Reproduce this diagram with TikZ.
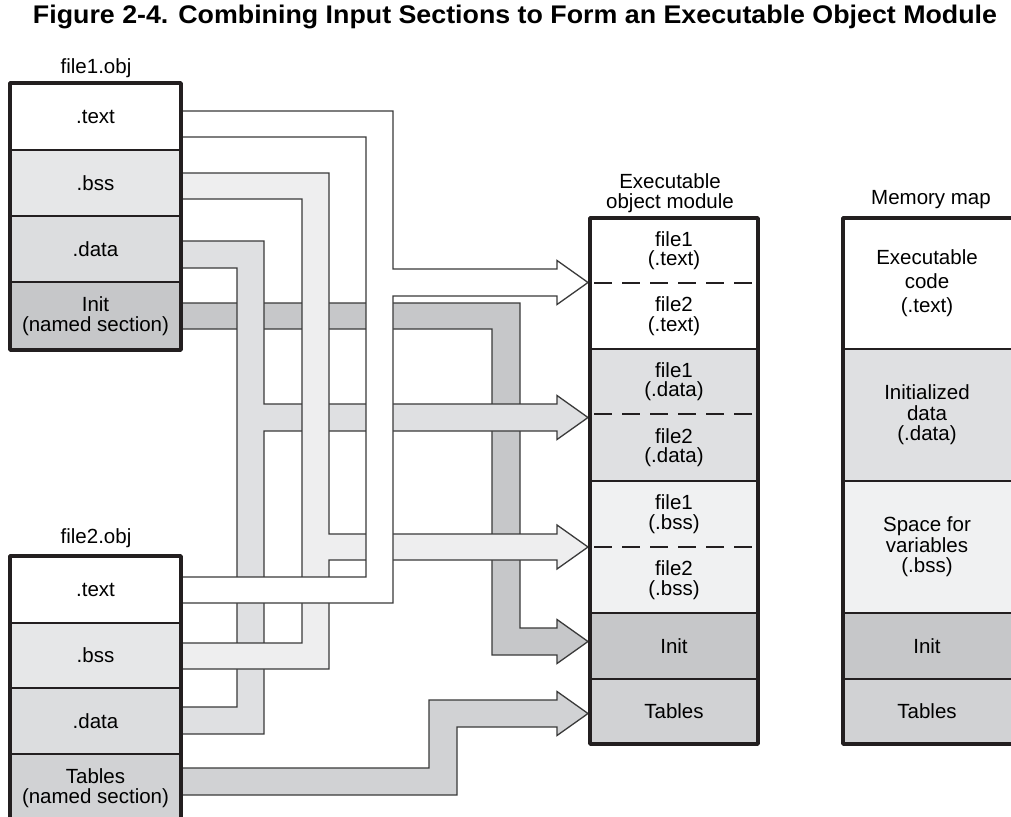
\documentclass[tikz,border=0pt]{standalone}
\usepackage{fontspec}
\setmainfont{Liberation Sans}
\definecolor{pipeline}{HTML}{3A3A3A}
\definecolor{framec}{HTML}{231F20}
\definecolor{cbss}{HTML}{EEEEEF}
\definecolor{cbssbox}{HTML}{E6E7E8}
\definecolor{cbssmod}{HTML}{F0F1F2}
\definecolor{cdata}{HTML}{DFE0E2}
\definecolor{cdatabox}{HTML}{DCDDDF}
\definecolor{cinit}{HTML}{C6C7C9}
\definecolor{ctab}{HTML}{D1D2D4}
\begin{document}
\begin{tikzpicture}[x=1pt,y=-1pt,
  pipe/.style={draw=pipeline,line width=1.3pt,line join=miter},
  lab/.style={font=\fontsize{20.5}{19.5}\selectfont,align=center,inner sep=0pt,text=black},
  labw/.style={font=\fontsize{20.5}{20.5}\selectfont,align=center,inner sep=0pt,text=black},
  sep/.style={draw=framec,line width=1.4pt},
  frame/.style={draw=framec,line width=3.6pt,line join=round},
  dashline/.style={draw=framec,line width=2pt,dash pattern=on 18pt off 10pt},
]
\useasboundingbox (0,0) rectangle (1011,816);
\fill[white] (0,0) rectangle (1011,816);

% title
\node[inner sep=0pt] (title) at (515,17)
  {\resizebox{964pt}{\height}{\fontsize{25.5}{25.5}\selectfont\bfseries Figure 2-4. Combining Input Sections to Form an Executable Object Module}};

% ---------- pipes ----------
% Init (file1)
\filldraw[pipe,fill=cinit] (181,303) -- (520,303) -- (520,628) -- (557,628) -- (557,619.5)
  -- (588,641.5) -- (557,663.5) -- (557,655) -- (492,655) -- (492,329) -- (181,329) -- cycle;
% .data
\filldraw[pipe,fill=cdata] (181,241) -- (264,241) -- (264,404) -- (557,404) -- (557,395.5)
  -- (588,417.5) -- (557,439.5) -- (557,431) -- (264,431) -- (264,734) -- (181,734)
  -- (181,707) -- (237,707) -- (237,268) -- (181,268) -- cycle;
% .bss
\filldraw[pipe,fill=cbss] (181,173) -- (329,173) -- (329,534) -- (557,534) -- (557,525)
  -- (588,547) -- (557,569) -- (557,560) -- (329,560) -- (329,669) -- (181,669)
  -- (181,643) -- (302,643) -- (302,199) -- (181,199) -- cycle;
% .text
\filldraw[pipe,fill=white] (181,111) -- (393,111) -- (393,269) -- (557,269) -- (557,260.5)
  -- (588,282.5) -- (557,304.5) -- (557,296) -- (393,296) -- (393,603) -- (181,603)
  -- (181,577) -- (366,577) -- (366,137) -- (181,137) -- cycle;
% Tables (file2)
\filldraw[pipe,fill=ctab] (181,768) -- (429,768) -- (429,700) -- (557,700) -- (557,691.5)
  -- (588,713.5) -- (557,735.5) -- (557,727) -- (457,727) -- (457,795) -- (181,795) -- cycle;

% ---------- file1.obj ----------
\fill[white] (10,83) rectangle (181,150);
\fill[cbssbox] (10,150) rectangle (181,216);
\fill[cdatabox] (10,216) rectangle (181,282);
\fill[cinit] (10,282) rectangle (181,350);
\draw[sep] (10,150) -- (181,150) (10,216) -- (181,216) (10,282) -- (181,282);
\draw[frame] (10,83) rectangle (181,350);

% ---------- file2.obj ----------
\fill[white] (10,556) rectangle (181,623);
\fill[cbssbox] (10,623) rectangle (181,688);
\fill[cdatabox] (10,688) rectangle (181,754);
\fill[ctab] (10,754) rectangle (181,822);
\draw[sep] (10,623) -- (181,623) (10,688) -- (181,688) (10,754) -- (181,754);
\draw[frame] (10,556) rectangle (181,822);

% ---------- executable object module ----------
\fill[white] (590,218) rectangle (758,349);
\fill[cdata] (590,349) rectangle (758,481);
\fill[cbssmod] (590,481) rectangle (758,613);
\fill[cinit] (590,613) rectangle (758,679);
\fill[ctab] (590,679) rectangle (758,744);
\draw[sep] (590,349) -- (758,349) (590,481) -- (758,481) (590,613) -- (758,613) (590,679) -- (758,679);
\draw[dashline] (594,283) -- (756,283) (594,414) -- (756,414) (594,547) -- (756,547);
\draw[frame] (590,218) rectangle (758,744);

% ---------- memory map ----------
\fill[white] (843,218) rectangle (1014,349);
\fill[cdata] (843,349) rectangle (1014,481);
\fill[cbssmod] (843,481) rectangle (1014,613);
\fill[cinit] (843,613) rectangle (1014,679);
\fill[ctab] (843,679) rectangle (1014,744);
\draw[sep] (843,349) -- (1014,349) (843,481) -- (1014,481) (843,613) -- (1014,613) (843,679) -- (1014,679);
\draw[frame] (843,218) rectangle (1014,744);

% ---------- labels ----------
\node[lab] (f1name) at (96,68) {file1.obj};
\node[lab] (f1text) at (95.5,116.5) {.text};
\node[lab] (f1bss) at (95.5,183) {.bss};
\node[lab] (f1data) at (95.5,249) {.data};
\node[lab] (f1init) at (95.5,316) {Init\\(named section)};

\node[lab] (f2name) at (96,538) {file2.obj};
\node[lab] (f2text) at (95.5,589.5) {.text};
\node[lab] (f2bss) at (95.5,655.5) {.bss};
\node[lab] (f2data) at (95.5,721) {.data};
\node[lab] (f2tab) at (95.5,788) {Tables\\(named section)};

\node[labw] (modname) at (670,193) {Executable\\object module};
\node[lab] (m1) at (674,250.5) {file1\\(.text)};
\node[lab] (m2) at (674,316) {file2\\(.text)};
\node[lab] (m3) at (674,381.5) {file1\\(.data)};
\node[lab] (m4) at (674,447.5) {file2\\(.data)};
\node[lab] (m5) at (674,514) {file1\\(.bss)};
\node[lab] (m6) at (674,580) {file2\\(.bss)};
\node[lab] (m7) at (674,646) {Init};
\node[lab] (m8) at (674,711.5) {Tables};

\node[lab] (mapname) at (931,200) {Memory map};
\node[font=\fontsize{20.5}{24}\selectfont,align=center,inner sep=0pt] (p1) at (927,283) {Executable\\code\\(.text)};
\node[labw] (p2) at (927,415) {Initialized\\data\\(.data)};
\node[labw] (p3) at (927,547) {Space for\\variables\\(.bss)};
\node[lab] (p4) at (927,646) {Init};
\node[lab] (p5) at (927,711.5) {Tables};
\end{tikzpicture}
\end{document}
